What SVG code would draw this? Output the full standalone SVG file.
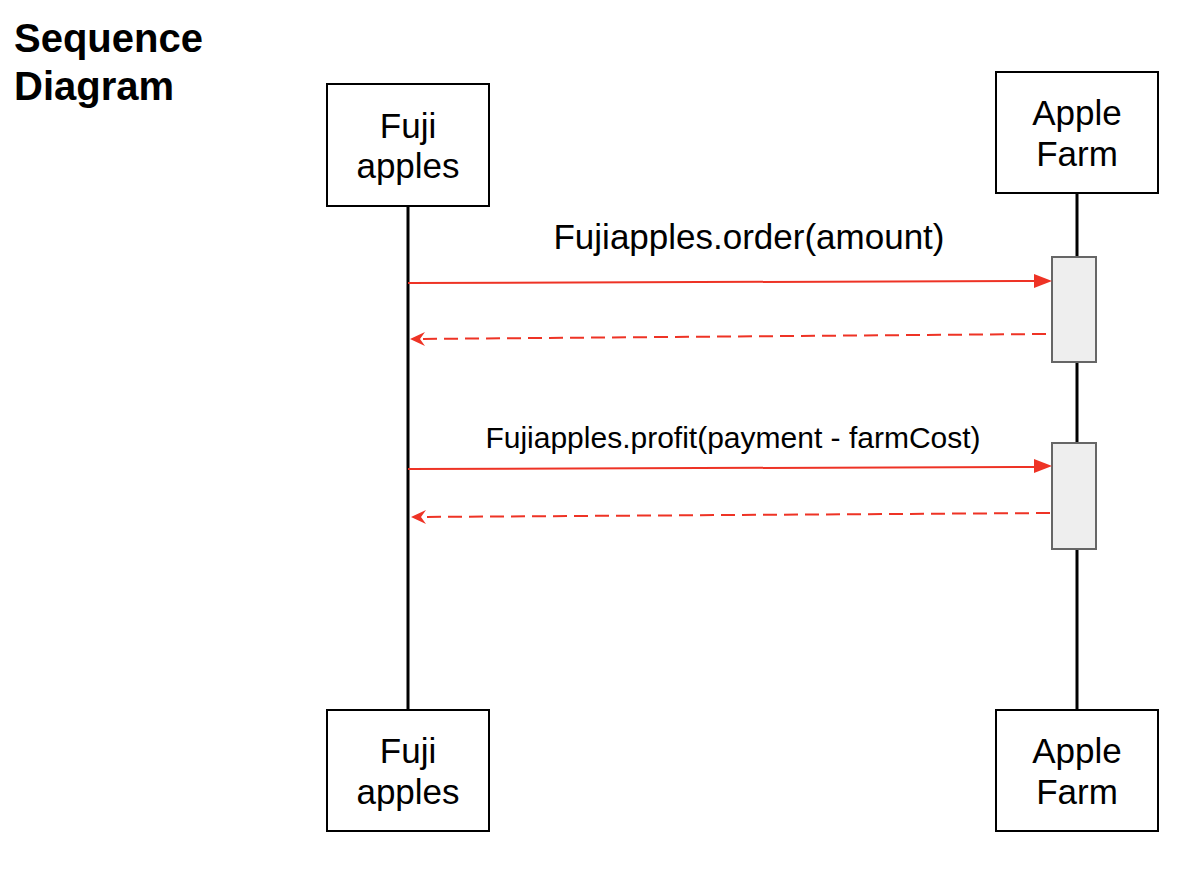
<svg xmlns="http://www.w3.org/2000/svg" width="1196" height="872" viewBox="0 0 1196 872">
<style>
.box{fill:#fff;stroke:#000;stroke-width:2}
.life{stroke:#000;stroke-width:3}
.act{fill:#eeeeee;stroke:#666;stroke-width:2}
.msg{stroke:#ee3325;stroke-width:2;fill:none}
.ret{stroke:#ee3325;stroke-width:2;fill:none;stroke-dasharray:14 7}
.head{fill:#ee3325}
.nt{font-family:"Liberation Sans",Arial,sans-serif;font-size:35px;text-anchor:middle;fill:#000}
.lbl{font-family:"Liberation Sans",Arial,sans-serif;text-anchor:middle;fill:#000}
.title{font-family:"Liberation Sans",Arial,sans-serif;font-size:40px;font-weight:bold;fill:#000}
</style>
<text class="title" x="14" y="52">Sequence</text>
<text class="title" x="14" y="100">Diagram</text>
<g id="lifelines">
<line class="life" x1="408" y1="206" x2="408" y2="710"/>
<line class="life" x1="1077" y1="193" x2="1077" y2="710"/>
</g>
<g id="fuji-top"><rect class="box" x="327" y="84" width="162" height="122"/><text class="nt" x="408" y="138">Fuji</text><text class="nt" x="408" y="178">apples</text></g>
<g id="farm-top"><rect class="box" x="996" y="72" width="162" height="121"/><text class="nt" x="1077" y="125">Apple</text><text class="nt" x="1077" y="166">Farm</text></g>
<g id="fuji-bottom"><rect class="box" x="327" y="710" width="162" height="121"/><text class="nt" x="408" y="763">Fuji</text><text class="nt" x="408" y="804">apples</text></g>
<g id="farm-bottom"><rect class="box" x="996" y="710" width="162" height="121"/><text class="nt" x="1077" y="763">Apple</text><text class="nt" x="1077" y="804">Farm</text></g>
<g id="act1"><rect class="act" x="1052" y="257" width="44" height="105"/></g>
<g id="act2"><rect class="act" x="1052" y="443" width="44" height="106"/></g>
<g id="connectors">
<line class="msg" x1="408" y1="283" x2="1040" y2="281"/>
<path class="head" d="M1052,281 L1034,274 L1034,288 Z"/>
<line class="ret" x1="1046" y1="334" x2="412" y2="339"/>
<path class="head" d="M410,339 L425,332 L420,339 L425,346 Z"/>
<line class="msg" x1="408" y1="469" x2="1040" y2="467"/>
<path class="head" d="M1052,466 L1034,459 L1034,473 Z"/>
<line class="ret" x1="1050" y1="513" x2="414" y2="517"/>
<path class="head" d="M411,517 L426,510 L421,517 L426,524 Z"/>
</g>
<text class="lbl" x="749" y="249" font-size="35">Fujiapples.order(amount)</text>
<text class="lbl" x="733" y="448" font-size="30">Fujiapples.profit(payment - farmCost)</text>
</svg>
